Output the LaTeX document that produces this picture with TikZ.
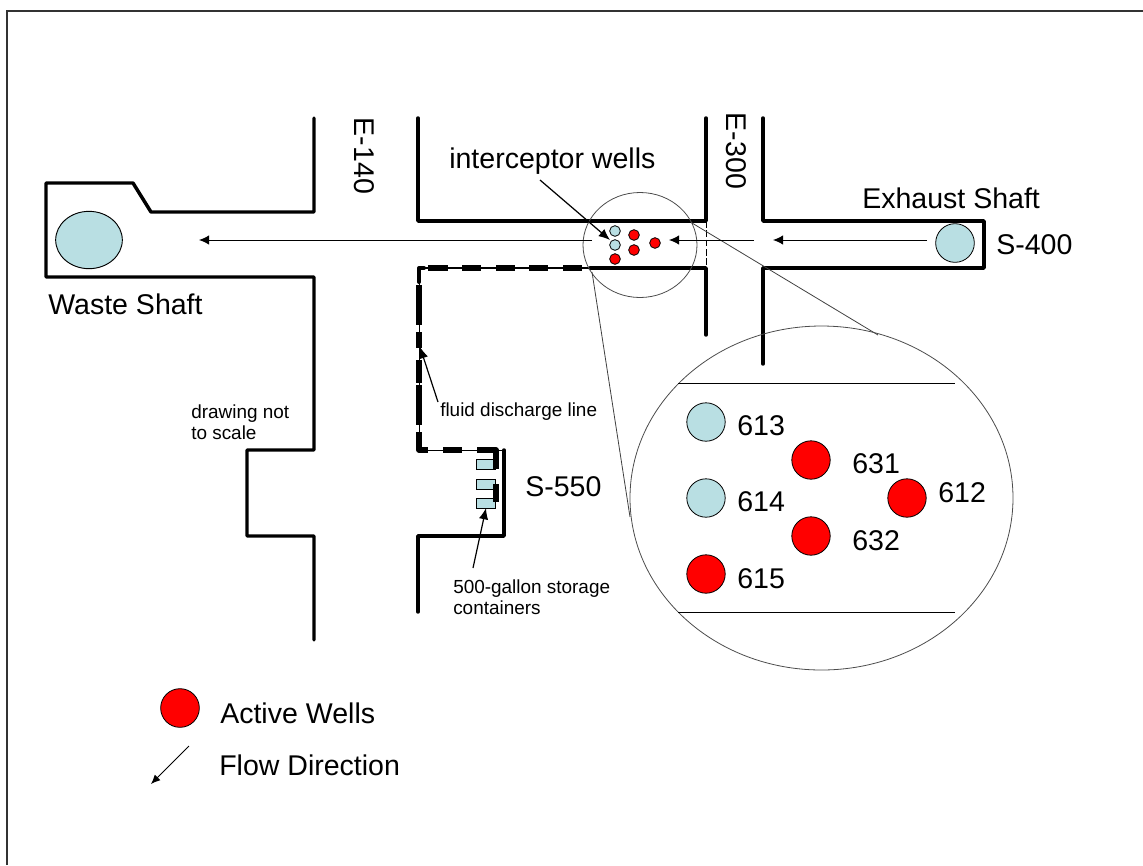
\documentclass[tikz,border=0pt]{standalone}
\usepackage{fontspec}
\setmainfont{Liberation Sans}
\usetikzlibrary{arrows.meta,shapes.geometric}
\definecolor{wellblue}{HTML}{B9DFE3}
\tikzset{
  x=0.75pt,y=-0.75pt,
  wall/.style={line width=2.6pt,line join=round,line cap=round},
  thinline/.style={line width=0.75pt,draw=black},
  zoomc/.style={line width=0.6pt,draw=black!70},
  leader/.style={line width=0.6pt,draw=black!75},
  flow/.style={line width=0.75pt,-{Latex[length=7.5pt,width=7pt]}},
  pointer/.style={line width=0.9pt,-{Latex[length=8.5pt,width=7pt]}},
  discharge/.style={line width=4pt,draw=black},
  well/.style={circle,draw=black,line width=0.6pt,inner sep=0pt,minimum size=#1},
  bluewell/.style={well=#1,fill=wellblue},
  redwell/.style={well=#1,fill=red},
  lab/.style={font=\fontsize{21.4pt}{24pt}\selectfont,inner sep=0pt,anchor=west},
  small/.style={font=\fontsize{14.2pt}{15.75pt}\selectfont,inner sep=0pt,anchor=west,align=left},
  cont/.style={draw=black,line width=0.7pt,fill=wellblue,minimum width=14.5pt,minimum height=7.5pt,inner sep=0pt},
}
\begin{document}
\begin{tikzpicture}
\useasboundingbox (0,0) rectangle (1143,865);
% frame
\draw[line width=0.9pt,draw=black!80] (7,865) -- (7,11) -- (1143,11);
% walls
\draw[wall] (314,118) -- (314,212) -- (151,212) -- (133,183) -- (46,183) -- (46,277) -- (314,277) -- (314,450) -- (247,450) -- (247,536) -- (314,536) -- (314,640);
\draw[wall] (418,118) -- (418,221) -- (706,221) -- (706,118);
\draw[wall] (590,268) -- (706,268) -- (706,335);
\draw[wall] (763,118) -- (763,221) -- (984,221) -- (984,268) -- (763,268) -- (763,364);
\draw[line width=0.75pt,dash pattern=on 5pt off 2pt] (706,221) -- (706,268);
\draw[wall] (504,450) -- (504,536) -- (418,536) -- (418,612);
% discharge line
\draw[line width=2pt] (419,268) -- (590,268);
\draw[thinline] (419,268) -- (419,450) -- (504,450);
\draw[discharge]
  (428,268) -- (448,268) (462,268) -- (481,268) (496,268) -- (515,268) (529,268) -- (548,268) (563,268) -- (582,268)
  (419,285) -- (419,325) (419,332) -- (419,348) (419,360) -- (419,383) (419,385) -- (419,425)
  (443,450) -- (462,450);
\draw[line width=3pt,line join=round,line cap=round] (419,282) -- (419,268) -- (424,268);
\draw[discharge,line join=round] (419,432) -- (419,450) -- (428,450);
% containers
\node[cont] (c1) at (486,464) {};
\node[cont] (c2) at (486,484) {};
\node[cont] (c3) at (486,503) {};
\draw[discharge,line join=round] (477,450) -- (496,450) -- (496,469);
\draw[discharge] (496,484) -- (496,502);
% shafts
\node[draw=black,line width=0.7pt,fill=wellblue,ellipse,minimum width=50pt,minimum height=43pt,inner sep=0pt] (ws) at (89,240) {};
\node[bluewell=29pt] (es) at (955,243) {};
% zoom circles
\draw[zoomc] (640,245) circle [x radius=57,y radius=52.5];
\coordinate (l1a) at (692,223);
\coordinate (l1b) at (878,335);
\coordinate (l2a) at (592,272);
\coordinate (l2b) at (630,517);
\draw[leader] (l1a) -- (l1b);
\draw[leader] (l2a) -- (l2b);
\draw[zoomc] (821.5,498) circle [x radius=191.5,y radius=172];
\coordinate (za) at (678,383);
\coordinate (zb) at (955,383);
\coordinate (zc) at (678,612);
\coordinate (zd) at (955,612);
\draw[thinline] (za) -- (zb);
\draw[thinline] (zc) -- (zd);
% small wells
\node[bluewell=8pt] (s613) at (615,231) {};
\node[bluewell=8pt] (s614) at (615,245) {};
\node[redwell=8pt] (s615) at (615,259) {};
\node[redwell=8pt] (s631) at (634,235) {};
\node[redwell=8pt] (s632) at (634,250) {};
\node[redwell=8pt] (s612) at (655,243) {};
% zoomed wells
\node[bluewell=28.8pt] (w613) at (706,422) {};
\node[bluewell=28.8pt] (w614) at (706,498) {};
\node[redwell=28.8pt] (w615) at (706,574) {};
\node[redwell=28.8pt] (w631) at (811,460) {};
\node[redwell=28.8pt] (w632) at (811,536) {};
\node[redwell=28.8pt] (w612) at (907,498) {};
\node[lab] (t613) at (737,426) {613};
\node[lab] (t614) at (737,502) {614};
\node[lab] (t615) at (737,579) {615};
\node[lab] (t631) at (852,464) {631};
\node[lab] (t632) at (852,541) {632};
\node[lab] (t612) at (938,493) {612};
% flow arrows
\coordinate (f1a) at (592,240);
\coordinate (f1b) at (199,240);
\coordinate (f2a) at (754,240);
\coordinate (f2b) at (669,240);
\coordinate (f3a) at (927,240);
\coordinate (f3b) at (773,240);
\draw[flow] (f1a) -- (f1b);
\draw[flow] (f2a) -- (f2b);
\draw[flow] (f3a) -- (f3b);
% labels
\node[lab] (int) at (449,161) {interceptor wells};
\coordinate (int0) at (540,180);
\coordinate (int1) at (610,240);
\draw[pointer] (int0) -- (int1);
\node[lab] (exh) at (862,198) {Exhaust Shaft};
\node[lab] (s400) at (996,245) {S-400};
\node[lab] (waste) at (48,304) {Waste Shaft};
\node[lab] (s550) at (525,487) {S-550};
\node[lab,rotate=-90,anchor=center] (e140) at (364,156) {E-140};
\node[lab,rotate=-90,anchor=center] (e300) at (736,151) {E-300};
\node[small] (dn) at (191,422) {drawing not\\to scale};
\node[small] (fd) at (440,412) {fluid discharge line};
\coordinate (fd0) at (438,402);
\coordinate (fd1) at (420,347);
\draw[pointer] (fd0) -- (fd1);
\node[small] (sc) at (453,597) {500-gallon storage\\containers};
\coordinate (sc0) at (473,568);
\coordinate (sc1) at (486,508);
\draw[pointer] (sc0) -- (sc1);
% legend
\node[redwell=29pt] (lw) at (180,708) {};
\node[lab] (law) at (220,713) {Active Wells};
\node[lab] (lfd) at (219,765) {Flow Direction};
\coordinate (la) at (189,746);
\coordinate (lb) at (151,784);
\draw[line width=0.75pt,-{Latex[length=7pt,width=6pt]}] (la) -- (lb);
\end{tikzpicture}
\end{document}
